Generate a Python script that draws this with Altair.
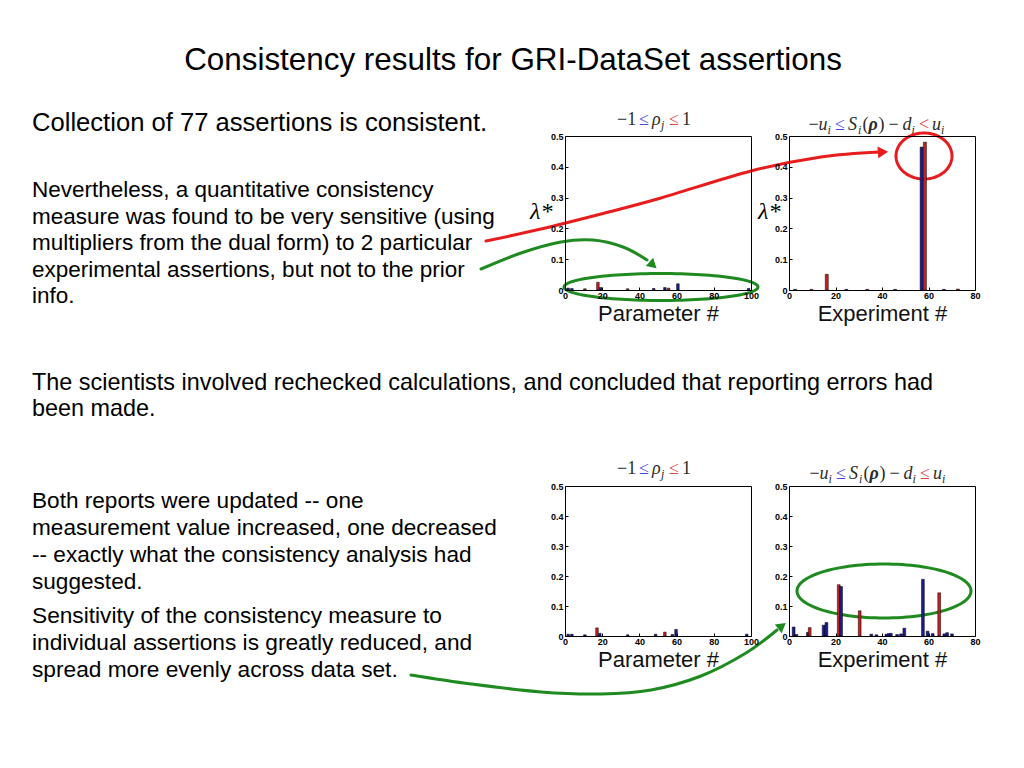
import altair as alt
import numpy as np
import pandas as pd

# ---------------- data ----------------
# Top row: before the update
PAR1_POS = [1, 3, 10, 17, 18.5, 33, 47, 53, 55, 60, 98]
PAR1_VAL = [0.006, 0.005, 0.004, 0.025, 0.008, 0.004, 0.005, 0.008, 0.006, 0.020, 0.005]
PAR1_SIDE = ["lower", "lower", "upper", "upper", "lower", "upper", "lower", "lower", "upper", "lower", "lower"]

EXP1_POS = [2, 9, 15.6, 24, 33, 45, 56.4, 57.8, 66, 72]
EXP1_VAL = [0.002, 0.002, 0.051, 0.002, 0.002, 0.002, 0.464, 0.480, 0.002, 0.003]
EXP1_SIDE = ["lower", "upper", "upper", "lower", "upper", "lower", "lower", "upper", "lower", "upper"]

# Bottom row: after the update
PAR2_POS = [1, 3, 10, 16.5, 18, 33, 48, 53, 57, 59, 97]
PAR2_VAL = [0.006, 0.006, 0.004, 0.027, 0.009, 0.004, 0.006, 0.013, 0.005, 0.022, 0.006]
PAR2_SIDE = ["lower", "lower", "lower", "upper", "lower", "lower", "lower", "upper", "lower", "lower", "lower"]

EXP2_POS = [1.4, 2.6, 7.5, 8.3, 14.3, 15.5, 20.8, 21.8, 29.8, 34.8, 37, 41.3, 42.3, 43.2,
            45.9, 47.6, 49, 57, 59, 61.2, 64, 66.2, 67.4, 69.5]
EXP2_VAL = [0.030, 0.005, 0.012, 0.028, 0.036, 0.045, 0.171, 0.165, 0.084, 0.006, 0.004, 0.006,
            0.008, 0.009, 0.005, 0.007, 0.026, 0.189, 0.016, 0.008, 0.144, 0.007, 0.011, 0.007]
EXP2_SIDE = ["lower", "lower", "lower", "upper", "lower", "lower", "upper", "lower", "upper", "lower",
             "lower", "lower", "lower", "lower", "lower", "lower", "lower", "lower", "lower", "lower",
             "upper", "lower", "lower", "lower"]

Y_TICKS = [0, 0.1, 0.2, 0.3, 0.4, 0.5]
PAR_TICKS = [0, 20, 40, 60, 80, 100]
EXP_TICKS = [0, 20, 40, 60, 80]

TITLE = "Consistency results for GRI-DataSet assertions"
TEXT_A = ["Collection of 77 assertions is consistent."]
TEXT_B = ["Nevertheless, a quantitative consistency",
          "measure was found to be very sensitive (using",
          "multipliers from the dual form) to 2 particular",
          "experimental assertions, but not to the prior",
          "info."]
TEXT_C = ["The scientists involved rechecked calculations, and concluded that reporting errors had",
          "been made."]
TEXT_D = ["Both reports were updated -- one",
          "measurement value increased, one decreased",
          "-- exactly what the consistency analysis had",
          "suggested."]
TEXT_E = ["Sensitivity of the consistency measure to",
          "individual assertions is greatly reduced, and",
          "spread more evenly across data set."]

# ---------------- style ----------------
SANS = "Liberation Sans"
SERIF = "Liberation Serif"
BAR_BLUE = "#1c1c8e"
BAR_RED = "#c42020"
ARROW_RED = "#e81c1c"
ARROW_GREEN = "#1f8a1f"
MATH = "#2b2b2b"
M_BLUE = "#4848e0"
M_RED = "#e04848"

LEFT_W = 556
TOTAL_H = 752
ONE = pd.DataFrame({"k": [0]})
XS = alt.Scale(domain=[8, 8 + LEFT_W])
YS = alt.Scale(domain=[8 + TOTAL_H, 8])


def text_line(s, x, y, size, align="left", color="black", font=SANS, style="normal",
              weight="normal", baseline="middle"):
    return alt.Chart(ONE).mark_text(
        text=s, align=align, baseline=baseline, fontSize=size, font=font, color=color,
        fontStyle=style, fontWeight=weight
    ).encode(x=alt.value(x - 8), y=alt.value(y - 8))


def text_block(lines, x, y0, lh, size):
    return [text_line(s, x, y0 + i * lh, size) for i, s in enumerate(lines)]


def curve(pts, color, width, interp="cardinal"):
    df = pd.DataFrame(pts, columns=["x", "y"])
    df["o"] = np.arange(len(df))
    return alt.Chart(df).mark_line(
        color=color, strokeWidth=width, interpolate=interp, strokeCap="round", strokeJoin="round"
    ).encode(
        x=alt.X("x:Q", scale=XS, axis=None),
        y=alt.Y("y:Q", scale=YS, axis=None),
        order="o:Q",
    )


def ellipse(cx, cy, rx, ry, color, width):
    t = np.linspace(0, 2 * np.pi, 121)
    return curve(list(zip(cx + rx * np.cos(t), cy + ry * np.sin(t))), color, width, "linear")


def head(x, y, angle, color, size):
    df = pd.DataFrame({"x": [x], "y": [y]})
    return alt.Chart(df).mark_point(
        shape="triangle-right", filled=True, color=color, fill=color, opacity=1,
        size=size, angle=angle, strokeWidth=0
    ).encode(x=alt.X("x:Q", scale=XS, axis=None), y=alt.Y("y:Q", scale=YS, axis=None))


def m(text, w, color=MATH, style="normal", weight="normal", size=18, dy=0):
    return (text, w, color, style, weight, size, dy)


def gap(w):
    return (None, w, None, None, None, None, None)


def math_title(cx, base_y, segs):
    total = sum(s[1] for s in segs)
    x = cx - total / 2
    out = []
    for text, w, color, style, weight, size, dy in segs:
        if text is not None:
            out.append(text_line(text, x, base_y + dy, size, color=color, font=SERIF,
                                 style=style, weight=weight, baseline="alphabetic"))
        x += w
    return out


def sub(t):
    return m(t, 4.5, style="italic", size=12, dy=4)


TL_SEGS = [m("\u22121", 19), gap(3), m("\u2264", 10, M_BLUE), gap(3), m("\u03c1", 9, style="italic"),
           m("j", 5, style="italic", size=12, dy=4), gap(3), m("\u2264", 10, M_RED), gap(3), m("1", 9)]


def exp_segs(rel2):
    return [m("\u2212", 10), m("u", 9, style="italic"), sub("i"), gap(3), m("\u2264", 10, M_BLUE), gap(3),
            m("S", 10, style="italic"), sub("i"), m("(", 6), m("\u03c1", 10, style="italic", weight="bold"),
            m(")", 6), gap(4), m("\u2212", 10), gap(4), m("d", 9, style="italic"), sub("i"), gap(3),
            m(rel2, 10, M_RED), gap(3), m("u", 9, style="italic"), sub("i")]


# ---------------- left cell: slide text + annotations ----------------
layers = []
layers.append(text_line(TITLE, 512, 57, 31.4, align="center"))
layers += text_block(TEXT_A, 31, 119, 26, 25.6)
layers += text_block(TEXT_B, 31, 186, 26.5, 22.5)
layers += text_block(TEXT_C, 31, 379, 26, 23.4)
layers += text_block(TEXT_D, 31, 497, 27, 22.6)
layers += text_block(TEXT_E, 31, 612, 27, 22.7)

layers += math_title(653, 121, TL_SEGS)
layers += math_title(876, 126, exp_segs("<"))
layers += math_title(653, 470, TL_SEGS)
layers += math_title(877, 475, exp_segs("\u2264"))

# red arrow + red ellipse
layers.append(curve([(485, 237), (540, 225), (600, 210), (660, 194), (750, 167), (820, 153), (878, 148)],
                    ARROW_RED, 3))
layers.append(head(882, 148, 356, ARROW_RED, 140))
layers.append(ellipse(923, 152, 28, 23, ARROW_RED, 3))
# green arrow (top) + green ellipse
layers.append(curve([(480, 265), (520, 249), (560, 238), (592, 236), (622, 243), (646, 256)],
                    ARROW_GREEN, 3))
layers.append(head(652, 261, 42, ARROW_GREEN, 120))
layers.append(ellipse(660, 283, 97, 13.5, ARROW_GREEN, 3))
# green arrow (bottom) + green ellipse
layers.append(curve([(410, 671), (470, 680), (540, 688), (600, 690), (650, 686), (700, 672), (745, 649),
                     (776, 626)], ARROW_GREEN, 3))
layers.append(head(781, 622, 322, ARROW_GREEN, 120))
layers.append(ellipse(883, 587, 87, 27, ARROW_GREEN, 3))

left = alt.layer(*layers).properties(width=LEFT_W, height=TOTAL_H)


# ---------------- bar panels ----------------
def panel(pos, val, side, xmax, xticks, bar_w, xtitle, ytitle, height, ytitle_x):
    df = pd.DataFrame({"pos": pos, "val": val, "side": side})
    xaxis = alt.Axis(values=xticks, format="d", grid=False, domain=False, tickSize=3, offset=-3,
                     tickColor="black", labelPadding=1, labelFont=SANS, labelFontSize=9,
                     labelFontWeight="bold", labelColor="black", labelFlush=False,
                     title=xtitle, titleFont=SANS, titleFontSize=22, titleFontWeight="normal",
                     titleColor="#111111", titlePadding=3)
    yaxis = alt.Axis(values=Y_TICKS, labelExpr="datum.value == 0 ? '0' : format(datum.value, '.1f')",
                     grid=False, domain=False, tickSize=3, offset=-3, tickColor="black",
                     labelPadding=2, labelFont=SANS, labelFontSize=9, labelFontWeight="bold",
                     labelColor="black", title=ytitle, titleAngle=0, titleFont=SERIF,
                     titleFontSize=24, titleFontStyle="italic", titleFontWeight="normal",
                     titleColor="black", titleAlign="right", titleBaseline="middle",
                     titleX=ytitle_x, titleY=height / 2 - 2)
    return alt.Chart(df).transform_calculate(
        pos2=f"datum.pos + {bar_w}"
    ).mark_rect(stroke="black", strokeWidth=0.5).encode(
        x=alt.X("pos:Q", scale=alt.Scale(domain=[0, xmax], nice=False, zero=False), axis=xaxis),
        x2="pos2:Q",
        y=alt.Y("val:Q", scale=alt.Scale(domain=[0, 0.5], nice=False), axis=yaxis),
        y2=alt.datum(0),
        color=alt.Color("side:N", scale=alt.Scale(domain=["lower", "upper"], range=[BAR_BLUE, BAR_RED]),
                        legend=None),
    ).properties(width=186, height=height,
                 view=alt.ViewBackground(stroke="black", strokeWidth=1))


p1 = panel(PAR1_POS, PAR1_VAL, PAR1_SIDE, 100, PAR_TICKS, 1.4, "Parameter #", "\u03bb*", 154, -16)
p2 = panel(EXP1_POS, EXP1_VAL, EXP1_SIDE, 80, EXP_TICKS, 1.3, "Experiment #", "\u03bb*", 154, -12)
p3 = panel(PAR2_POS, PAR2_VAL, PAR2_SIDE, 100, PAR_TICKS, 1.4, "Parameter #", "", 150, -16)
p4 = panel(EXP2_POS, EXP2_VAL, EXP2_SIDE, 80, EXP_TICKS, 1.2, "Experiment #", "", 150, -12)


def spacer(h, k):
    return alt.Chart(pd.DataFrame({"k": [k]})).mark_point(opacity=0).encode(
        x=alt.value(0), y=alt.value(0)).properties(width=10, height=h)


right = alt.concat(
    spacer(124, 1), spacer(124, 2), p1, p2, spacer(196, 3), spacer(196, 4), p3, p4,
    columns=2, spacing=alt.RowColnumber(row=0, column=38), bounds="flush"
)

chart = alt.hconcat(left, right, spacing=0, bounds="flush").properties(
    padding=0, background="white"
).configure_view(stroke="transparent")

chart.save("out.html", embed_options={"renderer": "svg", "actions": False})
